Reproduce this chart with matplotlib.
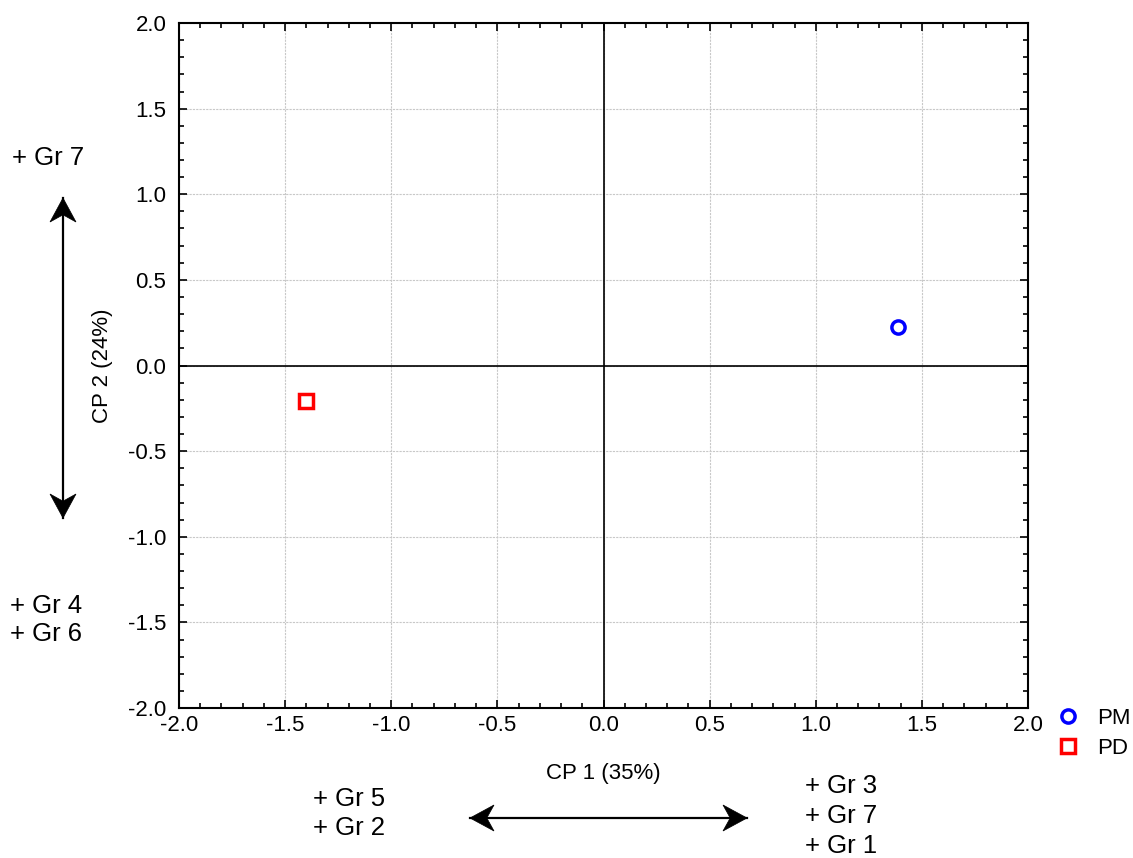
import matplotlib
matplotlib.use("Agg")
import matplotlib.pyplot as plt
from matplotlib.ticker import MultipleLocator
from matplotlib.patches import Polygon
from matplotlib.lines import Line2D
import numpy as np

plt.rcParams['font.family'] = ['Liberation Sans', 'DejaVu Sans']

groups = ["PM", "PD"]
cp1 = [1.387, -1.40]
cp2 = [0.225, -0.21]
colors = ["#0000ff", "#ff0000"]
markers = ["o", "s"]
xlabel = "CP 1 (35%)"
ylabel = "CP 2 (24%)"
ticks = [-2.0, -1.5, -1.0, -0.5, 0.0, 0.5, 1.0, 1.5, 2.0]

W, H = 1133, 858
fig = plt.figure(figsize=(W / 100, H / 100), dpi=100)
ax = fig.add_axes([179 / W, 1 - 708 / H, (1028 - 179) / W, (708 - 23) / H])

ax.set_xlim(-2, 2)
ax.set_ylim(-2, 2)
ax.set_xticks(ticks)
ax.set_yticks(ticks)
ax.set_xticklabels([f"{t:.1f}" for t in ticks])
ax.set_yticklabels([f"{t:.1f}" for t in ticks])
ax.xaxis.set_minor_locator(MultipleLocator(0.1))
ax.yaxis.set_minor_locator(MultipleLocator(0.1))
ax.tick_params(which='both', direction='in', top=True, right=True, labelsize=16, width=1.2)
ax.tick_params(which='major', length=6)
ax.tick_params(which='minor', length=3.5)
ax.tick_params(axis='x', which='major', pad=5)
ax.tick_params(axis='y', which='major', pad=9)
ax.grid(True, which='major', color='#c8c8c8', linestyle=(0, (2, 1)), linewidth=0.8)
for s in ax.spines.values():
    s.set_linewidth(1.5)
ax.axhline(0, color='black', linewidth=1.2)
ax.axvline(0, color='black', linewidth=1.2)

for g, x, y, c, m in zip(groups, cp1, cp2, colors, markers):
    ax.plot([x], [y], linestyle='none', marker=m, markersize=9.5,
            markerfacecolor='white', markeredgecolor=c, markeredgewidth=2.5, label=g, zorder=5)

ax.set_xlabel(xlabel, fontsize=16)
ax.set_ylabel(ylabel, fontsize=16)
ax.xaxis.set_label_coords(0.5, (708 - 763) / 685)
ax.yaxis.set_label_coords((113 - 179) / 849, 0.5)

leg = ax.legend(loc='upper left', bbox_to_anchor=((1057 - 179) / 849, (708 - 708) / 685),
                frameon=False, fontsize=16, handletextpad=0.8, labelspacing=0.4,
                handlelength=1.0, borderaxespad=0, borderpad=0)

def ftxt(px, py, s):
    fig.text(px / W, 1 - py / H, s, fontsize=18.5, ha='left', va='center')

ftxt(12, 158, "+ Gr 7")
ftxt(10, 606, "+ Gr 4")
ftxt(10, 634, "+ Gr 6")
ftxt(313, 799, "+ Gr 5")
ftxt(313, 828, "+ Gr 2")
ftxt(805, 786, "+ Gr 3")
ftxt(805, 816, "+ Gr 7")
ftxt(805, 846, "+ Gr 1")

def px2fig(p):
    return (p[0] / W, 1 - p[1] / H)

def stealth(tip, direction, L=24, w=26, notch=0.7):
    d = np.array(direction, float)
    d /= np.linalg.norm(d)
    n = np.array([-d[1], d[0]])
    tip = np.array(tip, float)
    back = tip - d * L
    pts = [tip, back + n * w / 2, tip - d * L * notch, back - n * w / 2]
    fig.add_artist(Polygon([px2fig(p) for p in pts], closed=True, transform=fig.transFigure,
                           facecolor='black', edgecolor='black', linewidth=0.5))

def farrow(x1, y1, x2, y2):
    fig.add_artist(Line2D([x1 / W, x2 / W], [1 - y1 / H, 1 - y2 / H],
                          transform=fig.transFigure, color='black', linewidth=1.6))
    stealth((x1, y1), (x1 - x2, y1 - y2))
    stealth((x2, y2), (x2 - x1, y2 - y1))

farrow(63, 198, 63, 518)
farrow(470, 818, 747, 818)

fig.savefig("out.png", dpi=100)
